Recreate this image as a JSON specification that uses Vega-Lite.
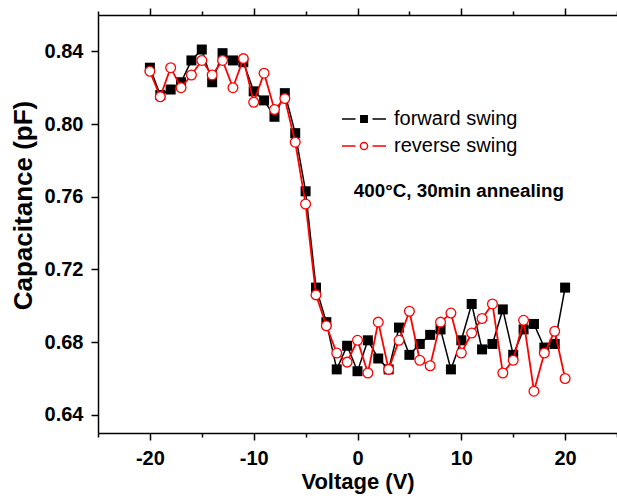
{
  "$schema": "https://vega.github.io/schema/vega-lite/v6.json",
  "width": 519,
  "height": 418,
  "autosize": {"type": "none"},
  "padding": {"left": 98, "top": 15, "right": 0, "bottom": 68},
  "background": "white",
  "datasets": {
    "cv": [
      {"V": -20, "C": 0.831, "series": "forward swing"},
      {"V": -19, "C": 0.816, "series": "forward swing"},
      {"V": -18, "C": 0.819, "series": "forward swing"},
      {"V": -17, "C": 0.823, "series": "forward swing"},
      {"V": -16, "C": 0.835, "series": "forward swing"},
      {"V": -15, "C": 0.841, "series": "forward swing"},
      {"V": -14, "C": 0.823, "series": "forward swing"},
      {"V": -13, "C": 0.839, "series": "forward swing"},
      {"V": -12, "C": 0.835, "series": "forward swing"},
      {"V": -11, "C": 0.834, "series": "forward swing"},
      {"V": -10, "C": 0.818, "series": "forward swing"},
      {"V": -9, "C": 0.813, "series": "forward swing"},
      {"V": -8, "C": 0.804, "series": "forward swing"},
      {"V": -7, "C": 0.817, "series": "forward swing"},
      {"V": -6, "C": 0.795, "series": "forward swing"},
      {"V": -5, "C": 0.763, "series": "forward swing"},
      {"V": -4, "C": 0.710, "series": "forward swing"},
      {"V": -3, "C": 0.691, "series": "forward swing"},
      {"V": -2, "C": 0.665, "series": "forward swing"},
      {"V": -1, "C": 0.678, "series": "forward swing"},
      {"V": 0, "C": 0.664, "series": "forward swing"},
      {"V": 1, "C": 0.681, "series": "forward swing"},
      {"V": 2, "C": 0.671, "series": "forward swing"},
      {"V": 3, "C": 0.665, "series": "forward swing"},
      {"V": 4, "C": 0.688, "series": "forward swing"},
      {"V": 5, "C": 0.673, "series": "forward swing"},
      {"V": 6, "C": 0.679, "series": "forward swing"},
      {"V": 7, "C": 0.684, "series": "forward swing"},
      {"V": 8, "C": 0.687, "series": "forward swing"},
      {"V": 9, "C": 0.665, "series": "forward swing"},
      {"V": 10, "C": 0.681, "series": "forward swing"},
      {"V": 11, "C": 0.701, "series": "forward swing"},
      {"V": 12, "C": 0.676, "series": "forward swing"},
      {"V": 13, "C": 0.679, "series": "forward swing"},
      {"V": 14, "C": 0.698, "series": "forward swing"},
      {"V": 15, "C": 0.673, "series": "forward swing"},
      {"V": 16, "C": 0.687, "series": "forward swing"},
      {"V": 17, "C": 0.690, "series": "forward swing"},
      {"V": 18, "C": 0.677, "series": "forward swing"},
      {"V": 19, "C": 0.679, "series": "forward swing"},
      {"V": 20, "C": 0.710, "series": "forward swing"},
      {"V": -20, "C": 0.829, "series": "reverse swing"},
      {"V": -19, "C": 0.815, "series": "reverse swing"},
      {"V": -18, "C": 0.831, "series": "reverse swing"},
      {"V": -17, "C": 0.820, "series": "reverse swing"},
      {"V": -16, "C": 0.827, "series": "reverse swing"},
      {"V": -15, "C": 0.835, "series": "reverse swing"},
      {"V": -14, "C": 0.827, "series": "reverse swing"},
      {"V": -13, "C": 0.835, "series": "reverse swing"},
      {"V": -12, "C": 0.820, "series": "reverse swing"},
      {"V": -11, "C": 0.836, "series": "reverse swing"},
      {"V": -10, "C": 0.812, "series": "reverse swing"},
      {"V": -9, "C": 0.828, "series": "reverse swing"},
      {"V": -8, "C": 0.808, "series": "reverse swing"},
      {"V": -7, "C": 0.814, "series": "reverse swing"},
      {"V": -6, "C": 0.790, "series": "reverse swing"},
      {"V": -5, "C": 0.756, "series": "reverse swing"},
      {"V": -4, "C": 0.706, "series": "reverse swing"},
      {"V": -3, "C": 0.689, "series": "reverse swing"},
      {"V": -2, "C": 0.674, "series": "reverse swing"},
      {"V": -1, "C": 0.669, "series": "reverse swing"},
      {"V": 0, "C": 0.681, "series": "reverse swing"},
      {"V": 1, "C": 0.663, "series": "reverse swing"},
      {"V": 2, "C": 0.691, "series": "reverse swing"},
      {"V": 3, "C": 0.665, "series": "reverse swing"},
      {"V": 4, "C": 0.681, "series": "reverse swing"},
      {"V": 5, "C": 0.697, "series": "reverse swing"},
      {"V": 6, "C": 0.670, "series": "reverse swing"},
      {"V": 7, "C": 0.667, "series": "reverse swing"},
      {"V": 8, "C": 0.691, "series": "reverse swing"},
      {"V": 9, "C": 0.696, "series": "reverse swing"},
      {"V": 10, "C": 0.674, "series": "reverse swing"},
      {"V": 11, "C": 0.685, "series": "reverse swing"},
      {"V": 12, "C": 0.693, "series": "reverse swing"},
      {"V": 13, "C": 0.701, "series": "reverse swing"},
      {"V": 14, "C": 0.663, "series": "reverse swing"},
      {"V": 15, "C": 0.670, "series": "reverse swing"},
      {"V": 16, "C": 0.692, "series": "reverse swing"},
      {"V": 17, "C": 0.653, "series": "reverse swing"},
      {"V": 18, "C": 0.674, "series": "reverse swing"},
      {"V": 19, "C": 0.686, "series": "reverse swing"},
      {"V": 20, "C": 0.660, "series": "reverse swing"}
    ],
    "note": [{"label": "400°C, 30min annealing"}]
  },
  "resolve": {"scale": {"x": "independent"}, "axis": {"x": "independent"}},
  "layer": [
    {
      "data": {"name": "cv"},
      "encoding": {
        "x": {
          "field": "V", "type": "quantitative",
          "scale": {"domain": [-25, 25], "nice": false, "zero": false},
          "axis": {
            "orient": "bottom",
            "title": "Voltage (V)",
            "values": [-25, -20, -15, -10, -5, 0, 5, 10, 15, 20, 25],
            "labelExpr": "datum.value % 10 == 0 ? '' + datum.value : ''",
            "tickSize": {"condition": {"test": "datum.value % 10 == 0", "value": 7}, "value": 4},
            "labelPadding": 8,
            "titlePadding": 3
          }
        },
        "y": {
          "field": "C", "type": "quantitative",
          "scale": {"domain": [0.63, 0.86], "nice": false, "zero": false},
          "axis": {
            "title": "Capacitance (pF)",
            "values": [0.64, 0.66, 0.68, 0.70, 0.72, 0.74, 0.76, 0.78, 0.80, 0.82, 0.84, 0.86],
            "labelExpr": "round(datum.value * 100) % 4 == 0 ? format(datum.value, '.2f') : ''",
            "tickSize": {"condition": {"test": "round(datum.value * 100) % 4 == 0", "value": 7}, "value": 4},
            "labelPadding": 8,
            "titlePadding": 8,
            "titleY": 190,
            "titleFontSize": 26
          }
        }
      },
      "layer": [
        {
          "transform": [{"filter": "datum.series == 'forward swing'"}],
          "mark": {"type": "line", "color": "black", "strokeWidth": 1.5}
        },
        {
          "transform": [{"filter": "datum.series == 'forward swing'"}],
          "mark": {"type": "point", "shape": "square", "filled": true, "color": "black", "size": 100, "opacity": 1}
        },
        {
          "transform": [{"filter": "datum.series == 'reverse swing'"}],
          "mark": {"type": "line", "color": "#ff0000", "strokeWidth": 1.8}
        },
        {
          "transform": [{"filter": "datum.series == 'reverse swing'"}],
          "mark": {"type": "point", "shape": "circle", "filled": false, "fill": "white", "stroke": "#ff0000", "strokeWidth": 1.3, "size": 95, "opacity": 1}
        },
        {
          "transform": [{"filter": "datum.V > 1000"}],
          "mark": {"type": "point", "opacity": 1, "strokeWidth": 1.5},
          "encoding": {
            "shape": {
              "field": "series", "type": "nominal",
              "scale": {
                "domain": ["forward swing", "reverse swing"],
                "range": [
                  "M-2.2,0H-0.85M-0.32,-0.32H0.32V0.32H-0.32ZM0.85,0H2.2",
                  "M-2.2,0H-0.85M0.36,0A0.36,0.36,0,1,1,-0.36,0A0.36,0.36,0,1,1,0.36,0ZM0.85,0H2.2"
                ]
              },
              "legend": {"title": null, "orient": "none", "legendX": 255, "legendY": 93}
            },
            "stroke": {
              "field": "series", "type": "nominal",
              "scale": {"domain": ["forward swing", "reverse swing"], "range": ["black", "#ff0000"]},
              "legend": {"title": null, "orient": "none", "legendX": 255, "legendY": 93}
            },
            "fill": {
              "field": "series", "type": "nominal",
              "scale": {"domain": ["forward swing", "reverse swing"], "range": ["black", "white"]},
              "legend": {"title": null, "orient": "none", "legendX": 255, "legendY": 93}
            }
          }
        }
      ]
    },
    {
      "data": {"name": "note"},
      "mark": {"type": "text", "align": "left", "baseline": "alphabetic", "font": "Liberation Sans", "fontWeight": "bold", "fontSize": 18.8, "color": "black"},
      "encoding": {
        "text": {"field": "label", "type": "nominal"},
        "x": {
          "datum": -0.35, "type": "quantitative",
          "scale": {"domain": [-25, 25], "nice": false, "zero": false},
          "axis": {
            "orient": "top",
            "title": null,
            "values": [-25, -20, -15, -10, -5, 0, 5, 10, 15, 20, 25],
            "labels": false,
            "tickSize": {"condition": {"test": "datum.value % 10 == 0", "value": 7}, "value": 4}
          }
        },
        "y": {"datum": 0.76, "type": "quantitative"}
      }
    }
  ],
  "config": {
    "view": {"stroke": null},
    "font": "Liberation Sans",
    "axis": {
      "grid": false,
      "domainColor": "black",
      "domainWidth": 1.5,
      "tickColor": "black",
      "tickWidth": 1.5,
      "labelFont": "Liberation Sans",
      "labelFontWeight": "bold",
      "labelFontSize": 20,
      "labelColor": "black",
      "titleFont": "Liberation Sans",
      "titleFontWeight": "bold",
      "titleFontSize": 22,
      "titleColor": "black",
      "labelFlush": false,
      "labelOverlap": false
    },
    "legend": {
      "labelFont": "Liberation Sans",
      "labelFontSize": 20,
      "labelColor": "black",
      "symbolSize": 400,
      "symbolStrokeWidth": 1.5,
      "labelOffset": 19,
      "rowPadding": 6,
      "padding": 0
    }
  }
}
